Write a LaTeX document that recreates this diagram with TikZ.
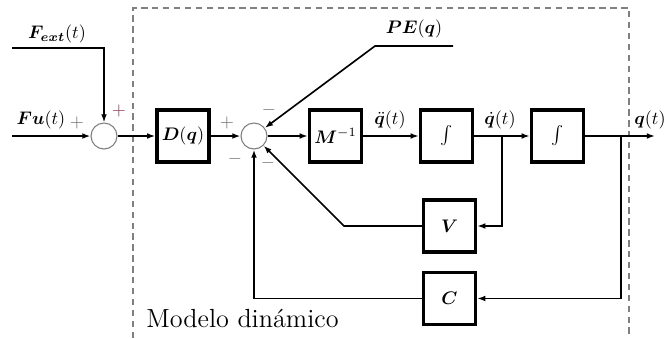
\documentclass[tikz,border=0pt]{standalone}
\usepackage{bm}
\usetikzlibrary{arrows.meta}
\definecolor{signgray}{HTML}{707070}
\definecolor{signred}{HTML}{8A3C5C}
\begin{document}
\begin{tikzpicture}[x=0.55pt,y=-0.55pt,
  blk/.style={draw,line width=2pt,minimum size=28.5pt,inner sep=0pt},
  sumc/.style={draw=gray,circle,minimum size=14.3pt,inner sep=0pt,line width=0.6pt},
  conn/.style={line width=0.9pt,-{Latex[length=4.5pt,width=3.2pt]}},
  wire/.style={line width=0.9pt},
  sgn/.style={text=signgray,inner sep=0pt},
  lbl/.style={inner sep=0pt}]
\useasboundingbox (0,0) rectangle (664,338);
% frame
\draw[gray,line width=0.6pt,dash pattern=on 3.5pt off 2.5pt] (133,338) -- (133,8) -- (629,8) -- (629,338);
% blocks
\node[sumc] (s1) at (104,136) {};
\node[sumc] (s2) at (254,136) {};
\node[blk] (D) at (183,136) {$\bm{D}(\bm{q})$};
\node[blk] (M) at (335.5,136) {$\bm{M}^{-1}$};
\node[blk] (I1) at (446.5,136) {$\int$};
\node[blk] (I2) at (557.5,136) {$\int$};
\node[blk] (V) at (449.5,226) {$\bm{V}$};
\node[blk] (C) at (449.5,298.5) {$\bm{C}$};
% coordinates
\coordinate (fu) at (12,136);
\coordinate (fe) at (12,48);
\coordinate (fec) at (104,48);
\coordinate (out) at (655,136);
\coordinate (bq) at (502,136);
\coordinate (bqd) at (502,226);
\coordinate (bp) at (621,136);
\coordinate (bpd) at (621,298.5);
\coordinate (pe1) at (453,46);
\coordinate (pe2) at (375,46);
\coordinate (vk) at (344,226);
\coordinate (ck) at (254,298.5);
% connectors
\draw[conn] (fu) -- (s1);
\draw[conn] (fe) -- (fec) -- (s1);
\draw[conn] (s1) -- (D);
\draw[conn] (D) -- (s2);
\draw[conn] (s2) -- (M);
\draw[conn] (M) -- (I1);
\draw[conn] (I1) -- (I2);
\draw[conn] (I2) -- (out);
\draw[conn] (bq) -- (bqd) -- (V);
\draw[conn] (bp) -- (bpd) -- (C);
\draw[conn] (V) -- (vk) -- (s2);
\draw[conn] (C) -- (ck) -- (s2);
\draw[conn] (pe1) -- (pe2) -- (s2);
% labels
\node[lbl] (lfe) at (57,34) {$\bm{F_{ext}}(t)$};
\node[lbl] (lfu) at (41,120) {$\bm{F}\bm{u}(t)$};
\node[lbl] (lpe) at (414,29) {$\bm{PE}(\bm{q})$};
\node[lbl] (lqdd) at (390,120) {$\ddot{\bm{q}}(t)$};
\node[lbl] (lqd) at (500,120) {$\dot{\bm{q}}(t)$};
\node[lbl] (lq) at (650,120) {$\bm{q}(t)$};
\node[lbl,anchor=base west] (lm) at (146,327) {\Large Modelo din\'amico};
% signs
\node[sgn] (p1) at (77,123) {$+$};
\node[sgn,text=signred] (p2) at (119,111) {$+$};
\node[sgn] (p3) at (227,123) {$+$};
\node[sgn] (m1) at (269,110) {$-$};
\node[sgn] (m2) at (235,159) {$-$};
\node[sgn] (m3) at (268,163) {$-$};
\end{tikzpicture}
\end{document}
